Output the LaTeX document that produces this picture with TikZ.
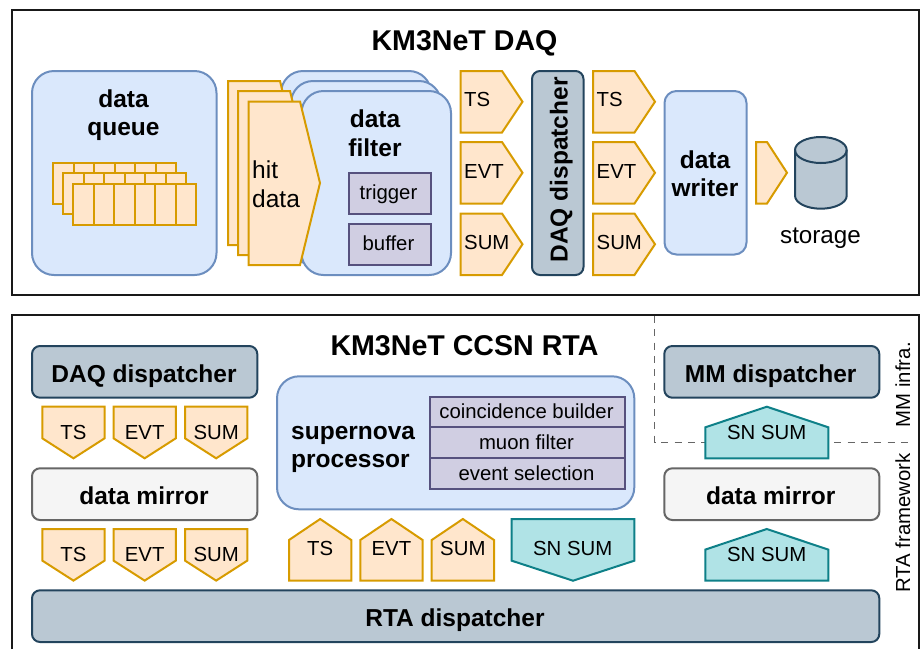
\documentclass[tikz,border=0pt]{standalone}
\usepackage{fontspec}
\setmainfont{Liberation Sans}
\usepackage{tikz}
\definecolor{bluefill}{HTML}{DAE8FC}
\definecolor{blueline}{HTML}{6C8EBF}
\definecolor{orangefill}{HTML}{FFE6CC}
\definecolor{orangeline}{HTML}{D79B00}
\definecolor{slatefill}{HTML}{BAC8D3}
\definecolor{slateline}{HTML}{23445D}
\definecolor{purplefill}{HTML}{D0CEE2}
\definecolor{purpleline}{HTML}{56517E}
\definecolor{greyfill}{HTML}{F5F5F5}
\definecolor{greyline}{HTML}{666666}
\definecolor{tealfill}{HTML}{B0E3E6}
\definecolor{tealline}{HTML}{0E8088}
\tikzstyle{frame} = [draw=black!90, line width=2pt]
\tikzstyle{bluebig} = [draw=blueline, fill=bluefill, line width=2pt, rounded corners=22pt]
\tikzstyle{bluesmall} = [draw=blueline, fill=bluefill, line width=2pt, rounded corners=12pt]
\tikzstyle{slatebox} = [draw=slateline, fill=slatefill, line width=2pt, rounded corners=8pt]
\tikzstyle{greybox} = [draw=greyline, fill=greyfill, line width=2pt, rounded corners=8pt]
\tikzstyle{purplebox} = [draw=purpleline, fill=purplefill, line width=2pt]
\tikzstyle{orangeshape} = [draw=orangeline, fill=orangefill, line width=2pt]
\tikzstyle{tealshape} = [draw=tealline, fill=tealfill, line width=2pt]
\tikzstyle{big} = [inner sep=0pt, anchor=base, font=\fontsize{24.5}{28.3}\selectfont\bfseries, align=center]
\tikzstyle{title} = [inner sep=0pt, anchor=base, font=\fontsize{28.6}{32}\selectfont\bfseries]
\tikzstyle{plain} = [inner sep=0pt, anchor=base, font=\fontsize{20.35}{24}\selectfont]
\tikzstyle{plainwest} = [inner sep=0pt, anchor=base west, font=\fontsize{20.35}{24}\selectfont]

\begin{document}
\begin{tikzpicture}[x=1pt,y=-1pt]
	\useasboundingbox (0,0) rectangle (920,649);
	
	% ------------------- KM3NeT DAQ ------------------- %
	\draw[frame] (12,10) rectangle (919,295);
	\node[title] (daqtitle) at (464.5,50) {KM3NeT DAQ};
	
	\draw[bluebig] (32,71) rectangle (216.5,275);
	\node[big] (queuelabel) at (123.5,135.5) {data\\queue};
	\foreach \x/\y in {53/162.5,63/173,73/183.5}
		\foreach \n in {0,...,5}
			\draw[orangeshape] (\x+\n*20.5,\y) rectangle ++(20.5,41);
	
	\draw[bluebig] (281,71) rectangle (431,255);
	\draw[bluebig] (291,81) rectangle (441,265);
	\draw[bluebig] (301.5,91) rectangle (451,275);
	\node[big] (filterlabel) at (375,156) {data\\filter};
	\draw[purplebox] (348.5,172.5) rectangle (431,214);
	\draw[purplebox] (348.5,223.5) rectangle (431,265);
	\node[plain] (trigger) at (388.5,199) {trigger};
	\node[plain] (buffer) at (388.5,250) {buffer};
	
	\draw[orangeshape] (228,81) -- (280,81) -- (300,163) -- (280,245) -- (228,245) -- cycle;
	\draw[orangeshape] (238,91) -- (290,91) -- (310,173) -- (290,255) -- (238,255) -- cycle;
	\draw[orangeshape] (248.5,101.5) -- (300,101.5) -- (320,183) -- (300,265) -- (248.5,265) -- cycle;
	\node[inner sep=0pt, anchor=base west, font=\fontsize{24.5}{28.3}\selectfont, align=left] (hitlabel) at (252,207) {hit\\data};
	
	% ------------------- Stream arrows of the writer ------------------- %
	\foreach \x/\side in {460.5/a,593/b}
		\foreach \y/\txt/\base in {71/TS/106.5,142/EVT/178,213.5/SUM/249}{
			\draw[orangeshape] (\x,\y) -- (\x+41.5,\y) -- (\x+62,\y+30.75) -- (\x+41.5,\y+61.5) -- (\x,\y+61.5) -- cycle;
			\node[plainwest] (\txt\side) at (\x+3.5,\base) {\txt};
		}
	
	\draw[slatebox] (532,71) rectangle (583.5,275);
	\node[big, rotate=90] (daqdisp) at (567.5,170) {DAQ dispatcher};
	
	\draw[bluesmall] (664.5,91) rectangle (746.5,254.5);
	\node[big] (writerlabel) at (705,196.5) {data\\writer};
	
	\draw[orangeshape] (756,142) -- (767,142) -- (787,172.75) -- (767,203.5) -- (756,203.5) -- cycle;
	
	\draw[draw=slateline, fill=slatefill, line width=2pt] (795,150) arc[start angle=180, end angle=360, x radius=25.85, y radius=13] -- (846.7,195.7) arc[start angle=0, end angle=180, x radius=25.85, y radius=13] -- cycle;
	\draw[draw=slateline, line width=2pt] (795,150) arc[start angle=180, end angle=0, x radius=25.85, y radius=13];
	\node[inner sep=0pt, anchor=base, font=\fontsize{24.2}{28}\selectfont] (storage) at (820.5,243) {storage};
	
	% ------------------- KM3NeT CCSN RTA ------------------- %
	\draw[frame] (12,649) -- (12,315) -- (919,315) -- (919,649);
	\node[title] (rtatitle) at (464.5,355.5) {KM3NeT CCSN RTA};
	
	\draw[slatebox] (32,346) rectangle (257.3,397.7);
	\node[big] (daqdisptwo) at (144,382.3) {DAQ dispatcher};
	\draw[greybox] (32,468.3) rectangle (257.3,520);
	\node[big] (mirrorone) at (144,504.3) {data mirror};
	
	\foreach \top/\base/\row in {406.7/439/a,529/561/b}
		\foreach \x/\txt in {42.3/TS,113.5/EVT,185/SUM}{
			\draw[orangeshape] (\x,\top) -- (\x+62.3,\top) -- (\x+62.3,\top+31.6) -- (\x+31.15,\top+51.6) -- (\x,\top+31.6) -- cycle;
			\node[plain] (\txt\row) at (\x+31.15,\base) {\txt};
		}
	
	\draw[bluebig] (277,376.3) rectangle (634.3,509.3);
	\node[inner sep=0pt, anchor=base west, font=\fontsize{24.5}{28.3}\selectfont\bfseries, align=left] (snlabel) at (291,467.8) {supernova\\processor};
	\draw[purplebox] (430,396.7) rectangle (624.7,427.3);
	\draw[purplebox] (430,427.3) rectangle (624.7,458);
	\draw[purplebox] (430,458) rectangle (624.7,489);
	\node[plain] (coinc) at (526.5,418.7) {coincidence builder};
	\node[plain] (muon) at (526.5,449.3) {muon filter};
	\node[plain] (evsel) at (526.5,480) {event selection};
	
	\foreach \x/\txt in {289/TS,360.3/EVT,431.7/SUM}{
		\draw[orangeshape] (\x,580.7) -- (\x,540) -- (\x+31.15,519) -- (\x+62.3,540) -- (\x+62.3,580.7) -- cycle;
		\node[plain] (\txt c) at (\x+31.15,555) {\txt};
	}
	
	\draw[tealshape] (511.7,519) -- (634.3,519) -- (634.3,560.7) -- (573,580.7) -- (511.7,560.7) -- cycle;
	\node[plain] (snsumdown) at (572.7,555) {SN SUM};
	
	% ------------------- Vertical and horizontal dashed line ------------------- %
	\draw[draw=greyline, line width=1.5pt, dash pattern=on 7pt off 6.3pt] (654.7,316) -- (654.7,442.3) -- (913,442.3);
	
	\draw[slatebox] (664.3,346) rectangle (879.3,397.7);
	\node[big] (mmdisp) at (770.7,382.3) {MM dispatcher};
	\draw[greybox] (664.3,468.3) rectangle (879.3,520);
	\node[big] (mirrortwo) at (770.7,504.3) {data mirror};
	
	\foreach \top/\base/\row in {406.7/439/a,529/561/b}{
		\draw[tealshape] (705.3,\top+51.6) -- (705.3,\top+20.6) -- (766.8,\top) -- (828.3,\top+20.6) -- (828.3,\top+51.6) -- cycle;
		\node[plain] (snsum\row) at (766.7,\base) {SN SUM};
	}
	
	\draw[slatebox] (32,590.3) rectangle (879.3,642);
	\node[big] (rtadisp) at (455,626.4) {RTA dispatcher};
	
	\node[plain, rotate=90] (mminfra) at (910,384.7) {MM infra.};
	\node[plain, rotate=90] (rtaframe) at (910,523) {RTA framework};
\end{tikzpicture}
\end{document}
